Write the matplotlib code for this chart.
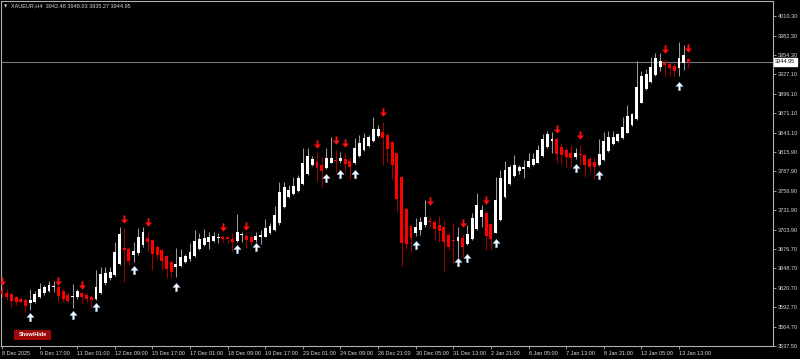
import matplotlib.pyplot as plt
from matplotlib.path import Path
from matplotlib.patches import Rectangle

# XAUEUR H4 candles (index = bar number from left)
opens = [
    3616.7, 3613.9, 3612.0, 3607.3, 3605.3, 3603.4, 3599.5, 3601.0, 3607.3, 3613.0,
    3616.7, 3621.6, 3622.4, 3616.7, 3611.0, 3607.3, 3607.3, 3613.0, 3611.0, 3608.1,
    3604.4, 3613.0, 3627.3, 3634.5, 3639.2, 3655.0, 3677.5, 3676.0, 3667.9, 3670.3,
    3682.2, 3691.8, 3689.4, 3679.8, 3675.0, 3666.4, 3658.3, 3650.2, 3652.5, 3658.3,
    3661.7, 3666.4, 3676.0, 3682.2, 3686.9, 3688.4, 3692.2, 3693.2, 3693.2, 3691.2,
    3688.4, 3696.1, 3695.1, 3693.2, 3689.4, 3693.2, 3694.1, 3699.8, 3703.7, 3713.3,
    3737.1, 3750.5, 3755.3, 3760.0, 3769.6, 3783.9, 3796.8, 3801.5, 3796.8, 3792.1,
    3800.1, 3803.9, 3803.0, 3805.0, 3802.5, 3799.2, 3809.7, 3818.3, 3824.0, 3831.6,
    3838.3, 3844.5, 3839.8, 3830.2, 3813.5, 3780.0, 3733.3, 3709.4, 3699.8, 3703.7,
    3710.8, 3717.0, 3715.6, 3710.8, 3707.5, 3696.5, 3689.4, 3688.4, 3691.8, 3683.6,
    3690.3, 3704.7, 3721.9, 3727.6, 3712.3, 3699.8, 3718.0, 3750.5, 3769.6, 3781.0,
    3788.6, 3790.6, 3793.5, 3796.8, 3800.1, 3809.7, 3822.2, 3831.6, 3833.6, 3823.0,
    3818.3, 3813.5, 3807.8, 3812.6, 3811.1, 3805.0, 3801.5, 3796.8, 3804.0, 3817.3,
    3826.9, 3831.6, 3835.1, 3843.1, 3854.1, 3862.3, 3886.1, 3905.2, 3916.1, 3925.7,
    3937.6, 3942.5, 3941.5, 3938.6, 3935.3, 3942.5, 3948.2,
]
highs = [
    3621.6, 3618.7, 3615.3, 3609.1, 3608.1, 3605.8, 3618.7, 3616.7, 3628.2, 3624.9,
    3631.0, 3630.6, 3626.3, 3618.7, 3613.0, 3626.3, 3618.7, 3616.7, 3613.0, 3610.6,
    3646.4, 3651.1, 3651.1, 3650.2, 3686.9, 3708.4, 3706.1, 3679.8, 3686.9, 3706.1,
    3707.5, 3701.2, 3690.3, 3682.2, 3676.0, 3667.9, 3660.7, 3677.5, 3676.4, 3669.3,
    3685.5, 3703.7, 3698.9, 3704.7, 3701.2, 3701.2, 3698.9, 3696.5, 3695.1, 3699.8,
    3726.6, 3701.2, 3701.2, 3695.1, 3701.2, 3703.7, 3719.0, 3714.1, 3738.1, 3772.9,
    3772.9, 3768.2, 3780.0, 3782.5, 3820.7, 3820.7, 3809.7, 3815.9, 3808.7, 3820.7,
    3836.5, 3818.3, 3815.9, 3813.5, 3807.8, 3835.1, 3839.8, 3842.2, 3839.8, 3866.0,
    3854.1, 3858.8, 3842.2, 3831.6, 3814.4, 3781.0, 3736.2, 3710.8, 3720.4, 3721.9,
    3746.7, 3722.7, 3718.0, 3723.7, 3718.0, 3698.9, 3713.3, 3707.5, 3697.9, 3710.8,
    3728.5, 3756.3, 3739.5, 3729.9, 3713.3, 3780.0, 3789.6, 3803.0, 3796.8, 3811.1,
    3796.8, 3803.9, 3813.5, 3814.4, 3825.5, 3841.2, 3845.9, 3844.5, 3836.5, 3827.9,
    3823.0, 3825.5, 3820.7, 3825.5, 3812.6, 3808.7, 3808.7, 3833.6, 3844.5, 3845.9,
    3845.9, 3843.1, 3865.1, 3882.8, 3871.7, 3946.2, 3931.9, 3933.9, 3951.1, 3957.7,
    3957.7, 3948.2, 3944.8, 3942.5, 3973.5, 3968.7, 3950.0,
]
lows = [
    3607.3, 3603.4, 3592.9, 3596.2, 3598.7, 3584.3, 3589.1, 3598.7, 3605.8, 3610.6,
    3615.3, 3615.3, 3601.0, 3601.0, 3598.7, 3591.5, 3604.4, 3598.7, 3601.0, 3591.5,
    3603.4, 3612.0, 3624.9, 3632.0, 3637.8, 3653.6, 3629.6, 3653.6, 3658.3, 3667.9,
    3679.8, 3672.6, 3646.4, 3660.7, 3646.4, 3634.5, 3636.8, 3636.8, 3650.2, 3656.0,
    3659.7, 3665.4, 3675.0, 3680.8, 3676.0, 3686.9, 3684.6, 3686.9, 3685.5, 3672.6,
    3686.9, 3686.9, 3677.5, 3682.2, 3686.9, 3683.6, 3693.2, 3697.9, 3702.7, 3710.8,
    3734.8, 3749.1, 3753.8, 3758.5, 3768.2, 3782.5, 3795.4, 3774.3, 3764.9, 3790.6,
    3799.2, 3787.2, 3799.2, 3787.2, 3776.3, 3798.2, 3808.7, 3817.3, 3823.0, 3830.2,
    3837.3, 3796.8, 3801.5, 3776.3, 3729.9, 3652.1, 3676.0, 3672.6, 3695.1, 3696.5,
    3708.4, 3708.4, 3689.4, 3686.9, 3643.9, 3675.0, 3655.9, 3665.4, 3665.4, 3682.2,
    3689.4, 3703.7, 3708.4, 3675.0, 3675.0, 3698.9, 3717.0, 3749.1, 3768.2, 3780.0,
    3783.9, 3777.7, 3792.1, 3795.4, 3799.2, 3808.7, 3820.7, 3813.5, 3799.2, 3798.2,
    3792.1, 3794.4, 3805.0, 3796.8, 3780.0, 3787.2, 3776.3, 3795.4, 3803.0, 3815.9,
    3825.5, 3830.2, 3833.6, 3842.2, 3852.7, 3861.3, 3885.2, 3904.3, 3914.7, 3924.3,
    3931.9, 3923.3, 3924.3, 3922.5, 3924.3, 3932.9, 3935.3,
]
closes = [
    3611.5, 3608.1, 3602.4, 3601.0, 3601.0, 3594.8, 3603.4, 3612.0, 3618.7, 3621.6,
    3624.9, 3623.4, 3609.1, 3604.4, 3602.4, 3609.1, 3616.7, 3607.3, 3604.4, 3603.4,
    3622.4, 3640.6, 3642.5, 3643.9, 3672.6, 3697.9, 3675.0, 3659.7, 3674.0, 3693.2,
    3700.4, 3686.1, 3669.3, 3667.9, 3659.3, 3647.4, 3643.9, 3655.0, 3665.4, 3666.4,
    3672.6, 3688.4, 3690.3, 3692.6, 3693.2, 3695.1, 3693.2, 3691.2, 3690.3, 3686.5,
    3701.2, 3697.9, 3689.4, 3686.5, 3695.1, 3696.5, 3706.1, 3709.4, 3725.2, 3758.5,
    3764.9, 3761.0, 3766.7, 3777.7, 3800.1, 3809.7, 3805.0, 3792.1, 3788.6, 3806.4,
    3806.4, 3802.1, 3806.8, 3798.2, 3794.4, 3820.7, 3828.8, 3835.1, 3836.5, 3847.9,
    3847.9, 3835.1, 3819.3, 3796.8, 3747.7, 3684.6, 3683.6, 3691.8, 3708.4, 3715.6,
    3722.7, 3715.1, 3704.7, 3702.7, 3686.9, 3679.8, 3687.5, 3694.1, 3678.9, 3697.9,
    3720.4, 3739.5, 3732.3, 3695.1, 3690.3, 3746.7, 3777.7, 3789.6, 3793.5, 3796.8,
    3793.5, 3794.4, 3803.0, 3805.0, 3818.3, 3833.6, 3841.2, 3833.6, 3812.6, 3811.1,
    3808.7, 3806.4, 3814.4, 3811.1, 3796.8, 3794.4, 3794.4, 3812.6, 3831.6, 3836.5,
    3836.5, 3841.2, 3850.8, 3867.0, 3869.9, 3908.1, 3924.3, 3927.2, 3936.8, 3949.7,
    3946.2, 3939.6, 3935.3, 3931.9, 3949.7, 3954.4, 3944.95,
]

# indicator signals: bar index and price level of the arrow
sell_idx = [0, 12, 17, 26, 31, 47, 52, 67, 71, 73, 81, 91, 98, 103, 118, 123, 141, 146]
sell_price = [3630.6, 3631.3, 3624.2, 3719.4, 3715.1, 3707.3, 3710.1, 3827.6, 3833.3,
              3828.3, 3872.7, 3745.9, 3713.7, 3746.7, 3848.4, 3840.5, 3963.7, 3964.4]
buy_idx = [6, 15, 20, 28, 37, 50, 54, 69, 72, 75, 88, 97, 99, 105, 122, 127, 144]
buy_price = [3579.7, 3582.6, 3593.4, 3645.7, 3622.7, 3676.5, 3679.3, 3778.9, 3784.6,
             3784.6, 3682.2, 3657.8, 3663.6, 3684.4, 3792.5, 3783.2, 3910.7]

price_ticks = [4010.30, 3982.30, 3954.30, 3927.10, 3899.10, 3871.10, 3843.10, 3815.90,
               3787.90, 3759.90, 3731.90, 3703.90, 3676.70, 3648.70, 3620.70, 3592.70,
               3564.70, 3537.50]
time_idx = list(range(0, 145, 8))
time_labels = ['8 Dec 2025', '9 Dec 17:00', '11 Dec 01:00', '12 Dec 09:00', '15 Dec 17:00',
               '17 Dec 01:00', '18 Dec 09:00', '19 Dec 17:00', '23 Dec 01:00', '24 Dec 09:00',
               '26 Dec 21:00', '30 Dec 05:00', '31 Dec 13:00', '2 Jan 21:00', '6 Jan 05:00',
               '7 Jan 13:00', '8 Jan 21:00', '12 Jan 05:00', '13 Jan 13:00']
last_price = 3944.95

plt.rcParams['font.family'] = ['Liberation Sans', 'DejaVu Sans']
txt_col = '#d8d8d8'
axis_col = '#b0b0b0'

W, H = 800, 359
fig = plt.figure(figsize=(W / 100, H / 100), dpi=100, facecolor='black')
ax = fig.add_axes([1 / W, 13 / H, 772 / W, 345 / H])
ax.set_facecolor('black')

x = list(range(len(opens)))
up = [c >= o for o, c in zip(opens, closes)]
wick_cols = ['#9a9a9a' if u else '#a00000' for u in up]
body_cols = ['#ffffff' if u else '#ff0000' for u in up]
bottoms = [min(o, c) for o, c in zip(opens, closes)]
heights = [max(abs(c - o), 1.3) for o, c in zip(opens, closes)]

ax.vlines(x, lows, highs, colors=wick_cols, linewidth=0.75, zorder=2)
ax.bar(x, heights, bottom=bottoms, width=0.62, color=body_cols, linewidth=0, zorder=3)

# arrow markers like the MT4 wingdings arrows
down_arrow = Path([(-0.22, 1), (0.22, 1), (0.22, 0), (0.85, 0), (0, -1), (-0.85, 0), (-0.22, 0), (-0.22, 1)],
                  [Path.MOVETO] + [Path.LINETO] * 6 + [Path.CLOSEPOLY])
up_arrow = Path([(-0.22, -1), (0.22, -1), (0.22, 0), (0.85, 0), (0, 1), (-0.85, 0), (-0.22, 0), (-0.22, -1)],
                [Path.MOVETO] + [Path.LINETO] * 6 + [Path.CLOSEPOLY])
ax.scatter(sell_idx, sell_price, marker=down_arrow, s=36, color='#ff1010', linewidths=0, zorder=4)
ax.scatter(buy_idx, buy_price, marker=up_arrow, s=36, facecolor='white', edgecolor='#8fb8e8',
           linewidths=0.4, zorder=4)

ax.axhline(last_price, color='#7a7a7a', linewidth=0.8, zorder=1)

ax.set_xlim(-0.21, 164.0)
ax.set_ylim(3537.5, 4031.8)

ax.yaxis.tick_right()
ax.set_yticks(price_ticks)
ax.set_yticklabels(['%.2f' % p for p in price_ticks])
ax.set_xticks(time_idx)
ax.set_xticklabels(time_labels)
for lab in ax.get_xticklabels():
    lab.set_horizontalalignment('left')
ax.tick_params(axis='y', colors=axis_col, labelcolor=txt_col, length=2, width=0.6,
               labelsize=4, pad=1.5)
ax.tick_params(axis='x', colors=axis_col, labelcolor=txt_col, length=2.5, width=0.6,
               labelsize=4, pad=1)
for sp in ax.spines.values():
    sp.set_color(axis_col)
    sp.set_linewidth(0.8)

# current price box on the price scale
ax.annotate('%.2f' % last_price, xy=(1, last_price), xycoords=('axes fraction', 'data'),
            xytext=(1.5, 0), textcoords='offset points', ha='left', va='center',
            fontsize=4, color='black', annotation_clip=False,
            bbox=dict(boxstyle='square,pad=0.25', fc='white', ec='white'))

# symbol header
fig.text(4 / W, 1 - 6 / H, '\u25bc', fontsize=3, color=txt_col, va='center', ha='left',
         family='DejaVu Sans')
fig.text(11 / W, 1 - 6 / H, 'XAUEUR,H4  3942.48 3948.03 3935.27 3944.95', fontsize=4,
         color=txt_col, va='center', ha='left')

# Show/Hide button
fig.patches.append(Rectangle((14 / W, 1 - 340 / H), 37 / W, 10 / H, transform=fig.transFigure,
                             facecolor='#9e0808', edgecolor='none'))
fig.text(32.5 / W, 1 - 335 / H, 'Show/Hide', fontsize=4, color='white', weight='bold',
         ha='center', va='center')

fig.savefig('out.png', dpi=100, facecolor='black')
